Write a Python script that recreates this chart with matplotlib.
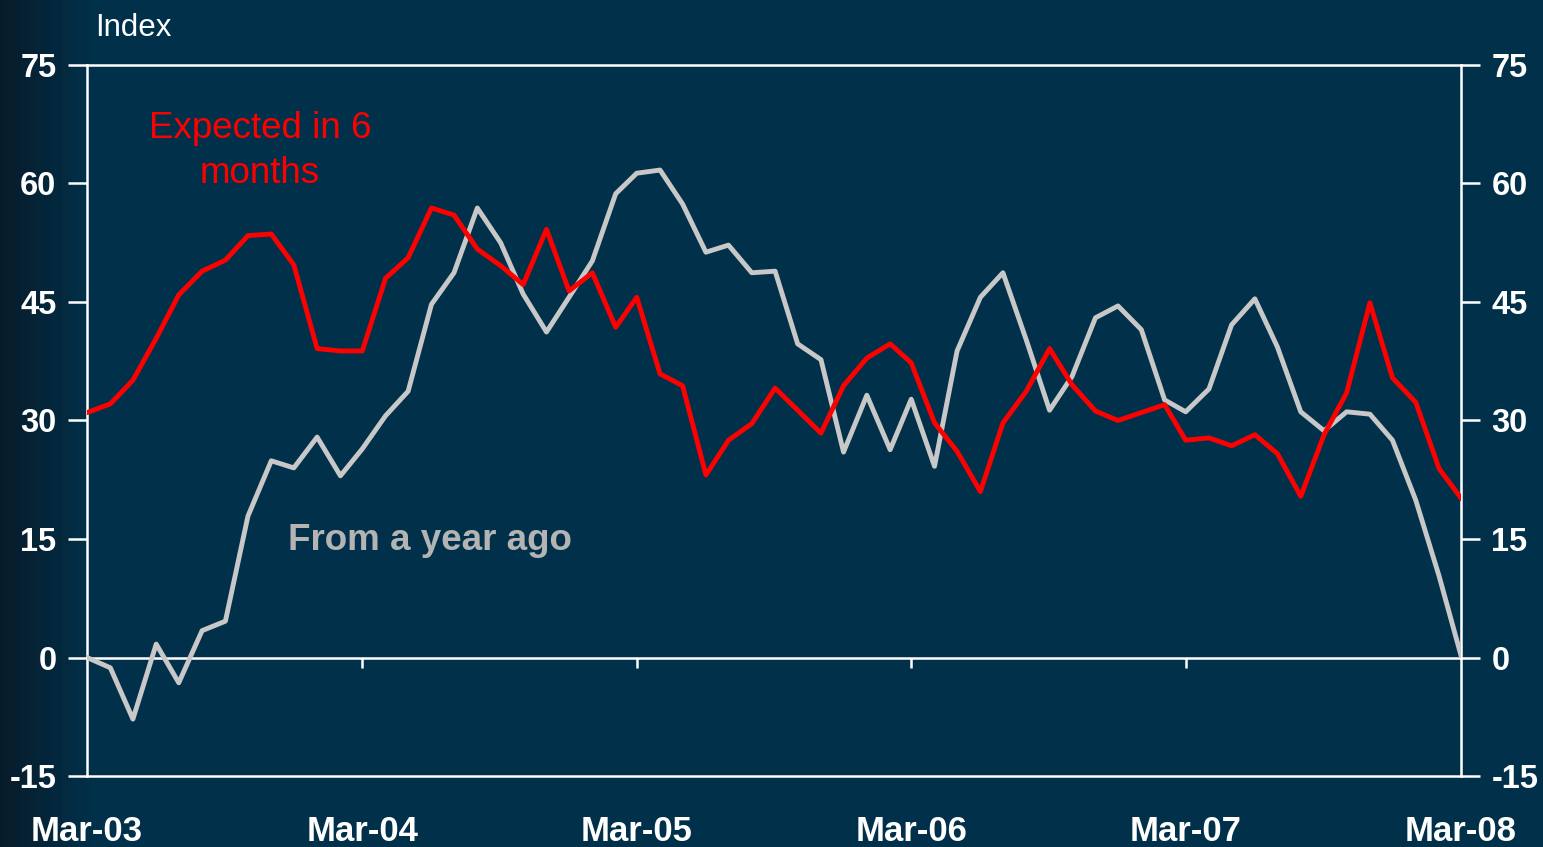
import numpy as np
import pandas as pd
import matplotlib
matplotlib.use("Agg")
import matplotlib.pyplot as plt

plt.rcParams['font.family'] = ['Liberation Sans', 'DejaVu Sans']
plt.rcParams['axes.unicode_minus'] = False

# monthly, Mar-03 .. Mar-08
dates = pd.date_range("2003-03-01", "2008-03-01", freq="MS")

expected_6m = [31.0, 32.1, 35.1, 40.4, 45.9, 48.9, 50.3, 53.4, 53.6, 49.7,
               39.1, 38.8, 38.8, 48.0, 50.6, 56.9, 56.0, 51.7, 49.6, 47.2,
               54.2, 46.4, 48.7, 41.8, 45.6, 35.9, 34.4, 23.1, 27.5, 29.6,
               34.1, 31.3, 28.4, 34.4, 37.9, 39.7, 37.3, 29.7, 26.1, 21.0,
               29.7, 33.7, 39.1, 34.5, 31.2, 30.0, 31.0, 32.0, 27.5, 27.8,
               26.8, 28.2, 25.8, 20.4, 28.2, 33.5, 44.9, 35.4, 32.3, 23.9,
               20.2]

year_ago = [0.0, -1.3, -7.8, 1.7, -3.2, 3.4, 4.6, 17.9, 24.9, 24.0,
            27.9, 23.0, 26.4, 30.6, 33.7, 44.7, 48.7, 56.9, 52.5, 46.0,
            41.2, 45.6, 50.2, 58.7, 61.3, 61.7, 57.4, 51.3, 52.2, 48.7,
            48.9, 39.7, 37.7, 26.0, 33.2, 26.3, 32.7, 24.2, 38.8, 45.6,
            48.7, 40.2, 31.3, 35.6, 43.0, 44.5, 41.5, 32.6, 31.1, 34.0,
            42.1, 45.4, 39.3, 31.1, 28.7, 31.1, 30.8, 27.5, 19.9, 10.3,
            0.3]

year_ticks = pd.to_datetime(["2003-03-01", "2004-03-01", "2005-03-01",
                             "2006-03-01", "2007-03-01", "2008-03-01"])
year_labels = ["Mar-03", "Mar-04", "Mar-05", "Mar-06", "Mar-07", "Mar-08"]
y_ticks = [-15, 0, 15, 30, 45, 60, 75]

bg = "#01314A"
fig = plt.figure(figsize=(15.43, 8.47), dpi=100, facecolor=bg)

# darker strip on the left edge of the slide
bgax = fig.add_axes([0, 0, 1, 1], zorder=-10)
c0 = np.array([0.03, 0.11, 0.17])
c1 = np.array([0x01, 0x31, 0x4A]) / 255
t = np.clip(np.linspace(0, 1, 300) / 0.06, 0, 1)[None, :, None]
grad = c0 * (1 - t) + c1 * t
grad = np.repeat(grad, 2, axis=0)
bgax.imshow(grad, aspect="auto", extent=[0, 1, 0, 1])
bgax.axis("off")

ax = fig.add_axes([0.0564, 0.0838, 0.8904, 0.8395])
ax.set_facecolor(bg)

ax.plot(dates, year_ago, color="#C8C8C8", lw=3.5, zorder=3)
ax.plot(dates, expected_6m, color="#FF0000", lw=3.5, zorder=4)

ax.set_xlim(dates[0], dates[-1])
ax.set_ylim(-15, 75)

# zero line with year ticks hanging from it
ax.axhline(0, color="white", lw=1.8, zorder=2)
ax.vlines(year_ticks[1:-1], -1.3, 0, color="white", lw=1.8, zorder=2)

for s in ax.spines.values():
    s.set_color("white")
    s.set_linewidth(1.8)

ax.set_yticks(y_ticks)
ax.tick_params(axis="y", which="both", colors="white", length=14, width=1.8,
               labelsize=23.5, pad=8, left=True, right=True,
               labelleft=True, labelright=True)
for lab in ax.get_yticklabels():
    lab.set_fontweight("bold")

ax.set_xticks(year_ticks)
ax.set_xticklabels(year_labels)
ax.tick_params(axis="x", colors="white", length=0, labelsize=25, pad=28)
for lab in ax.get_xticklabels():
    lab.set_fontweight("bold")

fig.text(0.0616, 0.967, "Index", color="white", fontsize=22.5,
         va="center", ha="left")

ax.text(0.126, 0.879, "Expected in 6\nmonths", transform=ax.transAxes,
        color="#FF0000", fontsize=26.5, ha="center", va="center",
        linespacing=1.4)
ax.text(0.146, 0.331, "From a year ago", transform=ax.transAxes,
        color="#B4B4B4", fontsize=26.5, fontweight="bold",
        ha="left", va="center")

fig.savefig("out.png", dpi=100, facecolor=fig.get_facecolor())
